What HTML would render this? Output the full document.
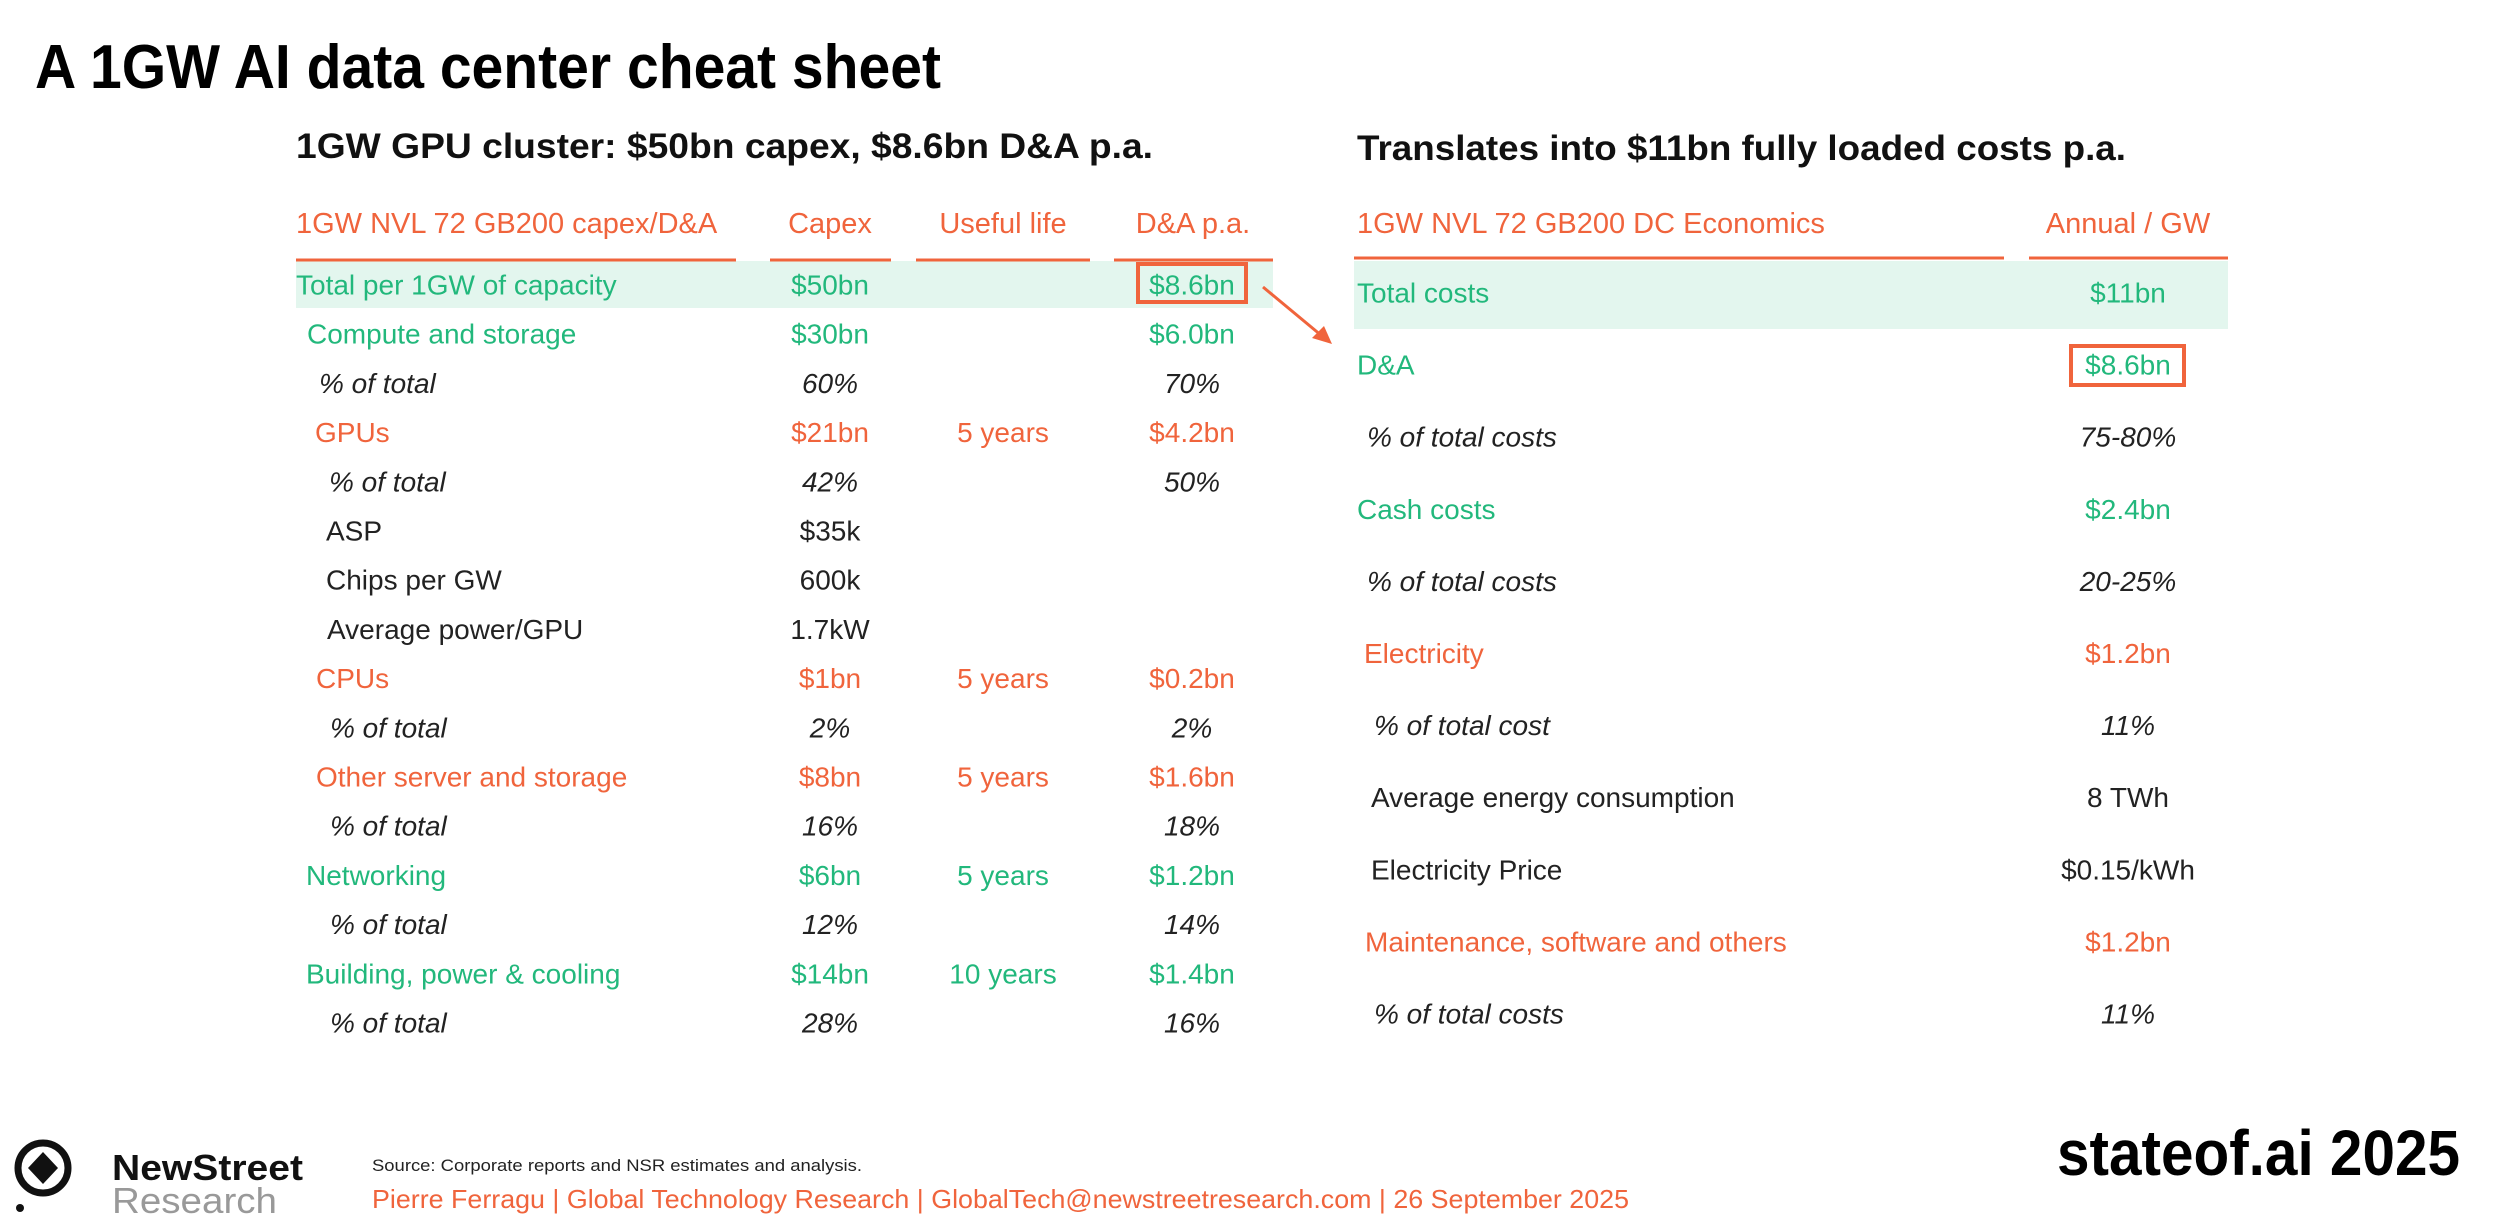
<!DOCTYPE html>
<html><head><meta charset="utf-8"><style>
html,body{margin:0;padding:0;background:#fff;width:2500px;height:1218px;overflow:hidden}
svg{display:block;font-family:"Liberation Sans",sans-serif}
</style></head><body>
<svg id="s" width="2500" height="1218" viewBox="0 0 2500 1218">
<text x="35" y="88" font-size="62" font-weight="bold" fill="#000" textLength="906" lengthAdjust="spacingAndGlyphs">A 1GW AI data center cheat sheet</text>
<text x="296" y="158" font-size="35" font-weight="bold" fill="#111" textLength="857" lengthAdjust="spacingAndGlyphs">1GW GPU cluster: $50bn capex, $8.6bn D&amp;A p.a.</text>
<text x="1357" y="160" font-size="35" font-weight="bold" fill="#111" textLength="769" lengthAdjust="spacingAndGlyphs">Translates into $11bn fully loaded costs p.a.</text>
<g id="left"></g>
<g id="right"></g>
<line x1="1263" y1="287" x2="1322" y2="336" stroke="#f0643c" stroke-width="3"/>
<polygon points="1332,344 1312,338 1324,326" fill="#f0643c"/>
<g>
<circle cx="43" cy="1168" r="25" fill="none" stroke="#111" stroke-width="7"/>
<polygon points="43,1152 58,1168 43,1184 28,1168" fill="#111"/>
<rect x="14" y="1190" width="9" height="26" fill="#fff"/>
<circle cx="20" cy="1208" r="4" fill="#111"/>
<text x="112" y="1180" font-size="36" font-weight="bold" fill="#111" textLength="191" lengthAdjust="spacingAndGlyphs">NewStreet</text>
<text x="112" y="1213" font-size="36" fill="#999" textLength="165" lengthAdjust="spacingAndGlyphs">Research</text>
</g>
<text x="372" y="1171" font-size="17" fill="#222" textLength="490" lengthAdjust="spacingAndGlyphs">Source: Corporate reports and NSR estimates and analysis.</text>
<text x="372" y="1208" font-size="26" fill="#f0643c" textLength="1257" lengthAdjust="spacingAndGlyphs">Pierre Ferragu | Global Technology Research | GlobalTech@newstreetresearch.com | 26 September 2025</text>
<text x="2057" y="1175" font-size="64" font-weight="bold" fill="#000" textLength="403" lengthAdjust="spacingAndGlyphs">stateof.ai 2025</text>
</svg>
<script>
const G='#22b87c',O='#f0643c',K='#222';
const leftLabels=['Total per 1GW of capacity','Compute and storage','% of total','GPUs','% of total','ASP','Chips per GW','Average power/GPU','CPUs','% of total','Other server and storage','% of total','Networking','% of total','Building, power & cooling','% of total'];
const leftCapex=['$50bn','$30bn','60%','$21bn','42%','$35k','600k','1.7kW','$1bn','2%','$8bn','16%','$6bn','12%','$14bn','28%'];
const leftLife=['','','','5 years','','','','','5 years','','5 years','','5 years','','10 years',''];
const leftDA=['$8.6bn','$6.0bn','70%','$4.2bn','50%','','','','$0.2bn','2%','$1.6bn','18%','$1.2bn','14%','$1.4bn','16%'];
const leftColor=[G,G,K,O,K,K,K,K,O,K,O,K,G,K,G,K];
const leftX=[296,307,319,315,329,326,326,327,316,330,316,330,306,330,306,330];
const rightLabels=['Total costs','D&A','% of total costs','Cash costs','% of total costs','Electricity','% of total cost','Average energy consumption','Electricity Price','Maintenance, software and others','% of total costs'];
const rightVals=['$11bn','$8.6bn','75-80%','$2.4bn','20-25%','$1.2bn','11%','8 TWh','$0.15/kWh','$1.2bn','11%'];
const rightColor=[G,G,K,G,K,O,K,K,K,O,K];
const rightX=[1357,1357,1367,1357,1367,1364,1374,1371,1371,1365,1374];
const NS='http://www.w3.org/2000/svg';
function el(p,tag,a,t){const e=document.createElementNS(NS,tag);for(const k in a)e.setAttribute(k,a[k]);if(t!==undefined)e.textContent=t;p.appendChild(e);return e;}
const L=document.getElementById('left'),R=document.getElementById('right');
// left header
let hb=el(L,'rect',{x:296,y:261,width:977,height:47,fill:'#e3f6ee'});


[['1GW NVL 72 GB200 capex/D&A',296,'start'],['Capex',830,'middle'],['Useful life',1003,'middle'],['D&A p.a.',1193,'middle']].forEach(h=>{
 const t=el(L,'text',{x:h[1],y:233,'font-size':29,fill:O,'text-anchor':h[2]},h[0]);
 
 
});
[[296,736],[770,891],[916,1090],[1114,1273]].forEach(s=>{
 const l=el(L,'line',{x1:s[0],x2:s[1],y1:260,y2:260,stroke:O,'stroke-width':3});
 
 
});
const lp=49.2,l0=285;
leftLabels.forEach((lab,i)=>{
 const y=l0+i*lp,it=leftColor[i]===K&&lab.startsWith('%');
 const st=it?'italic':'normal';
 const a=el(L,'text',{x:leftX[i],y:y,'dominant-baseline':'central','font-size':28,fill:leftColor[i],'font-style':st},lab);
 
 
 const b=el(L,'text',{x:830,y:y,'dominant-baseline':'central','font-size':28,fill:leftColor[i],'font-style':st,'text-anchor':'middle'},leftCapex[i]);
 
 
 const c=el(L,'text',{x:1003,y:y,'dominant-baseline':'central','font-size':28,fill:leftColor[i],'text-anchor':'middle'},leftLife[i]);
 
 
 const d=el(L,'text',{x:1192,y:y,'dominant-baseline':'central','font-size':28,fill:leftColor[i],'font-style':st,'text-anchor':'middle'},leftDA[i]);
 
 
});
let bx=el(L,'rect',{x:1138,y:264,width:108,height:38,fill:'none',stroke:O,'stroke-width':4});


// right
let rb=el(R,'rect',{x:1354,y:261,width:874,height:68,fill:'#e3f6ee'});


[['1GW NVL 72 GB200 DC Economics',1357,'start'],['Annual / GW',2128,'middle']].forEach(h=>{
 const t=el(R,'text',{x:h[1],y:233,'font-size':29,fill:O,'text-anchor':h[2]},h[0]);
 
 
});
[[1354,2004],[2029,2228]].forEach(s=>{
 const l=el(R,'line',{x1:s[0],x2:s[1],y1:258,y2:258,stroke:O,'stroke-width':3});
 
 
});
const rp=72.1,r0=293;
rightLabels.forEach((lab,i)=>{
 const y=r0+i*rp,st=lab.startsWith('%')?'italic':'normal';
 const a=el(R,'text',{x:rightX[i],y:y,'dominant-baseline':'central','font-size':28,fill:rightColor[i],'font-style':st},lab);
 
 
 const b=el(R,'text',{x:2128,y:y,'dominant-baseline':'central','font-size':28,fill:rightColor[i],'font-style':st,'text-anchor':'middle'},rightVals[i]);
 
 
});
let bx2=el(R,'rect',{x:2071,y:346,width:113,height:39,fill:'none',stroke:O,'stroke-width':4});


</script>
</body></html>
